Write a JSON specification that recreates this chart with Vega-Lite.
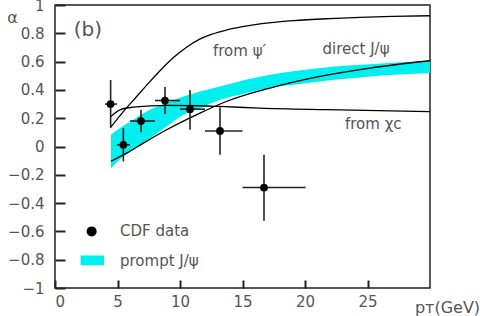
{
  "$schema": "https://vega.github.io/schema/vega-lite/v6.json",
  "width": 375,
  "height": 283,
  "autosize": {"type": "none"},
  "padding": {"left": 55, "top": 5, "right": 50, "bottom": 28},
  "background": "white",
  "config": {
    "view": {"stroke": "#222", "strokeWidth": 1.5},
    "font": "DejaVu Sans",
    "axis": {"grid": false, "labelColor": "#555", "labelFont": "DejaVu Sans", "labelFontSize": 15, "titleFont": "DejaVu Sans", "titleColor": "#555", "titleFontWeight": "normal"}
  },
  "datasets": {
    "band": [
      {"x": 4.48, "lo": -0.153, "hi": 0.083},
      {"x": 5.2, "lo": -0.09, "hi": 0.13},
      {"x": 6.27, "lo": -0.023, "hi": 0.189},
      {"x": 7.6, "lo": 0.059, "hi": 0.259},
      {"x": 8.93, "lo": 0.141, "hi": 0.307},
      {"x": 10.27, "lo": 0.224, "hi": 0.353},
      {"x": 11.6, "lo": 0.271, "hi": 0.389},
      {"x": 13.2, "lo": 0.33, "hi": 0.424},
      {"x": 15.2, "lo": 0.375, "hi": 0.47},
      {"x": 17.2, "lo": 0.413, "hi": 0.507},
      {"x": 19.2, "lo": 0.438, "hi": 0.533},
      {"x": 21.2, "lo": 0.459, "hi": 0.554},
      {"x": 23.2, "lo": 0.478, "hi": 0.57},
      {"x": 25.2, "lo": 0.495, "hi": 0.582},
      {"x": 27.6, "lo": 0.508, "hi": 0.595},
      {"x": 30, "lo": 0.519, "hi": 0.606}
    ],
    "curves": [
      {"curve": "psi", "x": 4.48, "y": 0.138},
      {"curve": "psi", "x": 5.5, "y": 0.25},
      {"curve": "psi", "x": 6.5, "y": 0.35},
      {"curve": "psi", "x": 7.5, "y": 0.45},
      {"curve": "psi", "x": 8.4, "y": 0.535},
      {"curve": "psi", "x": 9.5, "y": 0.63},
      {"curve": "psi", "x": 10.5, "y": 0.7},
      {"curve": "psi", "x": 11.5, "y": 0.755},
      {"curve": "psi", "x": 12.5, "y": 0.792},
      {"curve": "psi", "x": 13.7, "y": 0.823},
      {"curve": "psi", "x": 15, "y": 0.847},
      {"curve": "psi", "x": 16.4, "y": 0.866},
      {"curve": "psi", "x": 19.07, "y": 0.889},
      {"curve": "psi", "x": 22, "y": 0.904},
      {"curve": "psi", "x": 24.4, "y": 0.913},
      {"curve": "psi", "x": 27, "y": 0.919},
      {"curve": "psi", "x": 30, "y": 0.924},
      {"curve": "chi", "x": 4.48, "y": 0.212},
      {"curve": "chi", "x": 5.2, "y": 0.259},
      {"curve": "chi", "x": 6.27, "y": 0.278},
      {"curve": "chi", "x": 8.93, "y": 0.291},
      {"curve": "chi", "x": 11.6, "y": 0.288},
      {"curve": "chi", "x": 13.2, "y": 0.283},
      {"curve": "chi", "x": 16.4, "y": 0.271},
      {"curve": "chi", "x": 21.7, "y": 0.26},
      {"curve": "chi", "x": 30, "y": 0.247},
      {"curve": "direct", "x": 4.48, "y": -0.104},
      {"curve": "direct", "x": 5.73, "y": -0.047},
      {"curve": "direct", "x": 7.07, "y": 0.024},
      {"curve": "direct", "x": 8.93, "y": 0.118},
      {"curve": "direct", "x": 11.6, "y": 0.236},
      {"curve": "direct", "x": 13.7, "y": 0.318},
      {"curve": "direct", "x": 17.2, "y": 0.413},
      {"curve": "direct", "x": 21.2, "y": 0.495},
      {"curve": "direct", "x": 25.2, "y": 0.554},
      {"curve": "direct", "x": 30, "y": 0.606}
    ],
    "cdf": [
      {"x": 4.45, "xlo": 4.0, "xhi": 4.95, "y": 0.30, "ylo": 0.13, "yhi": 0.47},
      {"x": 5.47, "xlo": 4.95, "xhi": 6.0, "y": 0.012, "ylo": -0.106, "yhi": 0.13},
      {"x": 6.88, "xlo": 6.0, "xhi": 8.0, "y": 0.18, "ylo": 0.10, "yhi": 0.26},
      {"x": 8.8, "xlo": 8.0, "xhi": 10.0, "y": 0.325, "ylo": 0.23, "yhi": 0.42},
      {"x": 10.8, "xlo": 10.0, "xhi": 12.0, "y": 0.264, "ylo": 0.118, "yhi": 0.40},
      {"x": 13.2, "xlo": 12.0, "xhi": 15.0, "y": 0.11, "ylo": -0.059, "yhi": 0.278},
      {"x": 16.72, "xlo": 15.0, "xhi": 20.05, "y": -0.29, "ylo": -0.525, "yhi": -0.059}
    ],
    "labels": [
      {"x": 1.5, "y": 0.825, "text": "(b)", "size": 20},
      {"x": 12.64, "y": 0.672, "text": "from ψ′", "size": 15},
      {"x": 21.4, "y": 0.69, "text": "direct J/ψ", "size": 15},
      {"x": 23.2, "y": 0.16, "text": "from χc", "size": 15},
      {"x": 5.2, "y": -0.6, "text": "CDF data", "size": 15},
      {"x": 5.2, "y": -0.81, "text": "prompt J/ψ", "size": 15}
    ]
  },
  "encoding": {
    "x": {"type": "quantitative", "scale": {"domain": [0, 30], "nice": false, "zero": false},
      "axis": {"orient": "bottom", "offset": -8, "domain": true, "domainOpacity": 0, "labelOverlap": false, "values": [0, 5, 10, 15, 20, 25],
        "ticks": true, "tickColor": "#222", "tickWidth": 2, "tickSize": 8,
        "labelPadding": 6, "title": "pᴛ(GeV)", "titleFontSize": 16, "titleAlign": "center", "titleAnchor": "start", "titleX": 392, "titleY": 32, "titleBaseline": "alphabetic"}},
    "y": {"type": "quantitative", "scale": {"domain": [-1, 1], "nice": false, "zero": false},
      "axis": {"orient": "left", "offset": -10, "domain": true, "domainOpacity": 0, "labelOverlap": false, "format": "~g", "values": [-1, -0.8, -0.6, -0.4, -0.2, 0, 0.2, 0.4, 0.6, 0.8, 1],
        "ticks": true, "tickColor": "#222", "tickWidth": 2, "tickSize": 10,
        "labelPadding": 11, "title": "α", "titleAngle": 0, "titleFontSize": 16, "titleAlign": "center", "titleAnchor": "start", "titleX": -53, "titleY": 17, "titleBaseline": "alphabetic"}}
  },
  "layer": [
    {
      "data": {"name": "band"},
      "mark": {"type": "area", "color": "#00f0f0", "interpolate": "monotone"},
      "encoding": {
        "x": {"field": "x", "type": "quantitative"},
        "y": {"field": "lo", "type": "quantitative"},
        "y2": {"field": "hi"}
      }
    },
    {
      "data": {"name": "curves"},
      "mark": {"type": "line", "color": "black", "strokeWidth": 1.3, "interpolate": "monotone"},
      "encoding": {
        "x": {"field": "x", "type": "quantitative"},
        "y": {"field": "y", "type": "quantitative"},
        "detail": {"field": "curve"}
      }
    },
    {
      "mark": {"type": "rule", "color": "#777", "strokeWidth": 1.5},
      "encoding": {"y": {"datum": 0}}
    },
    {
      "data": {"name": "cdf"},
      "mark": {"type": "rule", "color": "#222", "strokeWidth": 1.6},
      "encoding": {
        "x": {"field": "xlo", "type": "quantitative"},
        "x2": {"field": "xhi"},
        "y": {"field": "y", "type": "quantitative"}
      }
    },
    {
      "data": {"name": "cdf"},
      "mark": {"type": "rule", "color": "#222", "strokeWidth": 1.6},
      "encoding": {
        "x": {"field": "x", "type": "quantitative"},
        "y": {"field": "ylo", "type": "quantitative"},
        "y2": {"field": "yhi"}
      }
    },
    {
      "data": {"name": "cdf"},
      "mark": {"type": "point", "filled": true, "color": "black", "opacity": 1, "size": 60},
      "encoding": {
        "x": {"field": "x", "type": "quantitative"},
        "y": {"field": "y", "type": "quantitative"}
      }
    },
    {
      "data": {"values": [{"x": 2.93, "y": -0.6}]},
      "mark": {"type": "point", "filled": true, "color": "black", "opacity": 1, "size": 100},
      "encoding": {
        "x": {"field": "x", "type": "quantitative"},
        "y": {"field": "y", "type": "quantitative"}
      }
    },
    {
      "data": {"values": [{"x": 2.05, "x2": 3.92, "y": -0.77, "y2": -0.84}]},
      "mark": {"type": "rect", "color": "#00f0f0"},
      "encoding": {
        "x": {"field": "x", "type": "quantitative"},
        "x2": {"field": "x2"},
        "y": {"field": "y", "type": "quantitative"},
        "y2": {"field": "y2"}
      }
    },
    {
      "data": {"name": "labels"},
      "mark": {"type": "text", "align": "left", "baseline": "middle", "color": "#555", "font": "DejaVu Sans"},
      "encoding": {
        "x": {"field": "x", "type": "quantitative"},
        "y": {"field": "y", "type": "quantitative"},
        "text": {"field": "text"},
        "size": {"field": "size", "type": "quantitative", "scale": null}
      }
    }
  ]
}
